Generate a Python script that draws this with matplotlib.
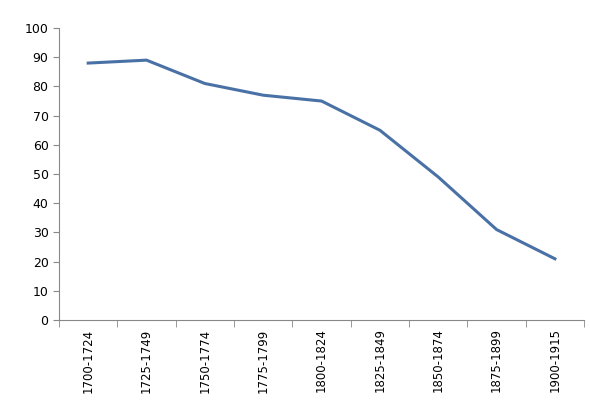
import matplotlib
matplotlib.use("Agg")
import matplotlib.pyplot as plt
import numpy as np

periods = ["1700-1724", "1725-1749", "1750-1774", "1775-1799", "1800-1824",
           "1825-1849", "1850-1874", "1875-1899", "1900-1915"]
values = [88, 89, 81, 77, 75, 65, 49, 31, 21]

fig = plt.figure(figsize=(5.90, 4.12), dpi=100)
ax = fig.add_axes([0.1, 0.223, 0.89, 0.709])

x = np.arange(len(periods))
ax.plot(x, values, color="#4A71A5", linewidth=2.2)

ax.set_xlim(-0.5, len(periods) - 0.5)
ax.set_ylim(0, 100)
ax.set_yticks(range(0, 101, 10))
ax.set_xticks(x)
ax.set_xticklabels(periods, rotation=90, fontsize=8.5)
ax.set_xticks(np.arange(-0.5, len(periods), 1), minor=True)
ax.tick_params(axis="x", which="major", length=0, pad=6)
ax.tick_params(axis="x", which="minor", length=5, color="#888888")
ax.tick_params(axis="y", length=4, color="#888888", labelsize=9)

for side in ["top", "right"]:
    ax.spines[side].set_visible(False)
for side in ["left", "bottom"]:
    ax.spines[side].set_color("#888888")

fig.savefig("out.png", dpi=100)
